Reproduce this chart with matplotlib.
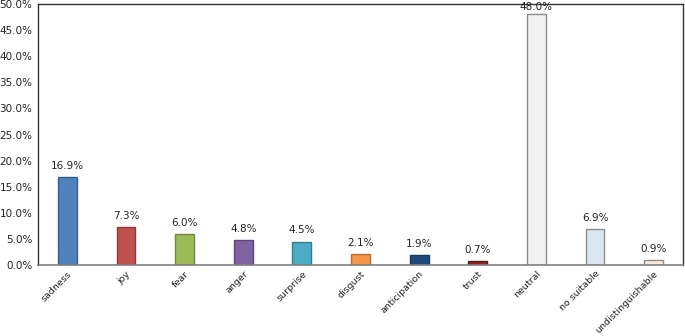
import numpy as np
import matplotlib.pyplot as plt
from matplotlib.ticker import FuncFormatter

categories = ['sadness', 'joy', 'fear', 'anger', 'surprise', 'disgust',
              'anticipation', 'trust', 'neutral', 'no suitable', 'undistinguishable']
values = [16.9, 7.3, 6.0, 4.8, 4.5, 2.1, 1.9, 0.7, 48.0, 6.9, 0.9]
colors = ['#4F81BD', '#C0504D', '#9BBB59', '#8064A2', '#4BACC6', '#F79646',
          '#1F497D', '#8B2323', '#F2F2F2', '#DCE6F2', '#FDEADA']
edges = ['#385D8A', '#8C3836', '#71893F', '#5C4776', '#357D91', '#B66D31',
         '#17375E', '#5A1818', '#8C8C8C', '#8C8C8C', '#8C8C8C']

fig = plt.figure(figsize=(6.85, 3.36), dpi=100)
ax = fig.add_axes([0.0555, 0.211, 0.9416, 0.777])

x = np.arange(len(categories))
ax.bar(x, values, width=0.32, color=colors, edgecolor=edges, linewidth=1)

# labels above bars, kept inside the figure for the tallest bar
for xi, v in zip(x, values):
    ax.text(xi, min(v + 1.2, 48.5), f'{v:.1f}%', ha='center', va='bottom',
            fontsize=7.5, color='#222222', clip_on=False)

ax.set_xlim(-0.5, len(categories) - 0.5)
ax.set_ylim(0, 50)
ax.set_yticks(np.arange(0, 50.1, 5))
ax.yaxis.set_major_formatter(FuncFormatter(lambda v, p: f'{v:.1f}%'))
ax.set_xticks(x)
ax.set_xticklabels(categories, rotation=45, ha='right', rotation_mode='anchor')
ax.tick_params(axis='both', labelsize=7.5, length=0, colors='#222222')
ax.tick_params(axis='x', labelsize=6.8, pad=3)
ax.tick_params(axis='y', pad=4)

for side in ['left', 'top', 'right']:
    ax.spines[side].set_color('#333333')
    ax.spines[side].set_linewidth(1)
ax.spines['bottom'].set_color('#808080')
ax.spines['bottom'].set_linewidth(1.2)

fig.savefig('out.png', dpi=100)
